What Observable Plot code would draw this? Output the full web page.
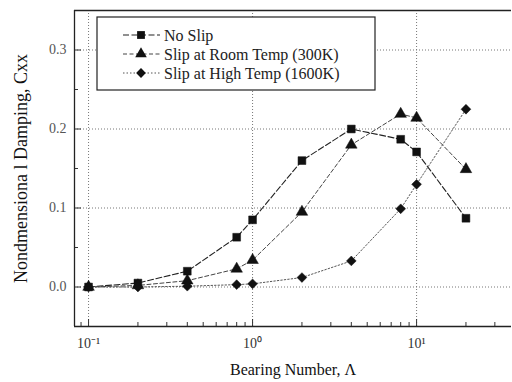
<!DOCTYPE html>
<html><head><meta charset="utf-8">
<script src="https://cdn.jsdelivr.net/npm/d3@7"></script>
<script src="https://cdn.jsdelivr.net/npm/@observablehq/plot@0.6"></script>
<style>body{margin:0;background:#fff} #chart{width:512px;height:382px;overflow:hidden}</style>
</head><body><div id="chart"></div>
<script>
const bearingNumbers = [0.1, 0.2, 0.4, 0.8, 1, 2, 4, 8, 10, 20];
const noSlip   = [0.000, 0.005, 0.020, 0.063, 0.085, 0.160, 0.200, 0.187, 0.171, 0.087];
const slipRoom = [0.000, 0.002, 0.008, 0.023, 0.034, 0.095, 0.180, 0.219, 0.214, 0.149];
const slipHigh = [0.000, 0.000, 0.001, 0.003, 0.004, 0.012, 0.033, 0.099, 0.130, 0.225];
const seriesNames = ["No Slip", "Slip at Room Temp (300K)", "Slip at High Temp (1600K)"];
const xTicks = [0.1, 1, 10];
const xTickLabels = ["10\u207B\u00B9", "10\u2070", "10\u00B9"];
const xMinorTicks = [0.09, 0.2, 0.3, 0.4, 0.5, 0.6, 0.7, 0.8, 0.9, 2, 3, 4, 5, 6, 7, 8, 9, 20, 30];
const yTicks = [0, 0.1, 0.2, 0.3];
const yTickLabels = ["0.0", "0.1", "0.2", "0.3"];
const yMinorTicks = [0.05, 0.15, 0.25];
const xLabel = "Bearing Number, \u039B";
const yLabel = "Nondmensiona l Damping, Cxx";

const xDomain = [0.0821, 37.9];
const yDomain = [-0.05, 0.35];
const seriesValues = [noSlip, slipRoom, slipHigh];
const symbols = ["square", "triangle", "diamond2"];
const d3Symbols = [d3.symbolSquare, d3.symbolTriangle, d3.symbolDiamond2];
const radii = [4.4, 4.3, 4.4];
const strokes = ["#222", "#444", "#555"];
const dashes = ["6,2.5", "4,2.5", "1.5,2"];
const widths = [1.1, 1, 1];

const data = seriesNames.flatMap((s, k) => bearingNumbers.map((b, i) => ({x: b, y: seriesValues[k][i], s})));

const marks = [
  Plot.gridX(xTicks, {stroke: "#777", strokeOpacity: 1, strokeDasharray: "1,2"}),
  Plot.gridY(yTicks, {stroke: "#777", strokeOpacity: 1, strokeDasharray: "1,2"}),
  Plot.axisX(xTicks, {tickSize: -7, tickPadding: 19, tickFormat: d => xTickLabels[xTicks.indexOf(d)], fontSize: 14, fill: "#333", label: null}),
  Plot.axisX(xMinorTicks, {tickSize: -4, tickFormat: () => "", label: null}),
  Plot.axisY(yTicks, {tickSize: -7, tickPadding: 15, tickFormat: d => yTickLabels[yTicks.indexOf(d)], fontSize: 14, fill: "#555", label: null}),
  Plot.axisY(yMinorTicks, {tickSize: -4, tickFormat: () => "", label: null}),
];
seriesNames.forEach((s, k) => {
  const d = data.filter(e => e.s === s);
  marks.push(Plot.line(d, {x: "x", y: "y", stroke: strokes[k], strokeWidth: widths[k], strokeDasharray: dashes[k]}));
  marks.push(Plot.dot(d, {x: "x", y: "y", symbol: () => symbols[k], r: radii[k], fill: "#111", stroke: "#111", strokeWidth: 0.5}));
});
marks.push(Plot.ruleX([xDomain[0]], {stroke: "#222", strokeWidth: 1.3}));
marks.push(Plot.ruleY(yDomain, {stroke: "#222", strokeWidth: 1.3}));
marks.push(Plot.text([xLabel], {text: d => d, frameAnchor: "bottom", dy: 48, fontSize: 16, fill: "#111"}));
marks.push(Plot.text([yLabel], {text: d => d, frameAnchor: "left", textAnchor: "middle", rotate: -90, dx: -53, fontSize: 18, fill: "#111"}));

const plot = Plot.plot({
  width: 512, height: 382,
  marginLeft: 74, marginRight: 1, marginTop: 10, marginBottom: 56,
  style: {fontFamily: "Liberation Serif", fontSize: "14px", color: "#333", background: "#fff"},
  x: {type: "log", domain: xDomain},
  y: {domain: yDomain},
  marks
});
document.getElementById("chart").appendChild(plot);

// legend box inside the frame
const svg = d3.select(plot);
const lg = svg.append("g").attr("font-family", "Liberation Serif").attr("font-size", 16).attr("text-anchor", "start");
lg.append("rect").attr("x", 97).attr("y", 17).attr("width", 278).attr("height", 73)
  .attr("fill", "#fff").attr("stroke", "#222").attr("stroke-width", 1.2);
seriesNames.forEach((s, k) => {
  const y = 35 + k * 19;
  lg.append("line").attr("x1", 123).attr("x2", 160).attr("y1", y).attr("y2", y)
    .attr("stroke", strokes[k]).attr("stroke-width", widths[k]).attr("stroke-dasharray", dashes[k]);
  lg.append("path").attr("transform", `translate(141,${y})`)
    .attr("d", d3.symbol(d3Symbols[k], Math.PI * radii[k] * radii[k])())
    .attr("fill", "#111");
  lg.append("text").attr("x", 164).attr("y", y).attr("dy", "0.35em").attr("fill", "#222").text(s);
});
</script>
</body></html>
